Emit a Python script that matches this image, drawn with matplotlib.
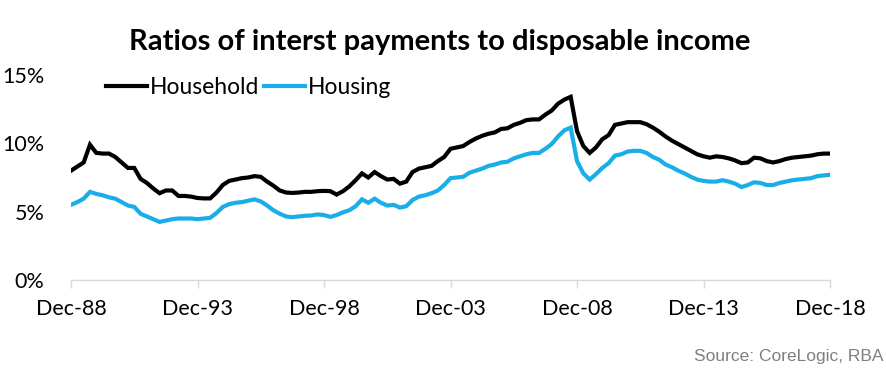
import matplotlib
matplotlib.use('Agg')
import matplotlib.pyplot as plt
import numpy as np

# quarterly, Dec-88 .. Dec-18 (per cent)
household = [8.0, 8.3, 8.6, 9.9, 9.3, 9.25, 9.25, 9.0, 8.6, 8.2,
             8.2, 7.4, 7.1, 6.7, 6.35, 6.55, 6.55, 6.15, 6.15, 6.1,
             6.0, 5.97, 5.97, 6.4, 6.95, 7.25, 7.35, 7.45, 7.5, 7.6,
             7.55, 7.2, 6.9, 6.55, 6.4, 6.37, 6.4, 6.45, 6.45, 6.5,
             6.52, 6.5, 6.25, 6.5, 6.85, 7.3, 7.8, 7.5, 7.9, 7.6,
             7.35, 7.4, 7.05, 7.2, 7.9, 8.15, 8.25, 8.35, 8.7, 9.0,
             9.6, 9.7, 9.8, 10.1, 10.35, 10.55, 10.7, 10.8, 11.05, 11.1,
             11.35, 11.5, 11.7, 11.75, 11.75, 12.1, 12.4, 12.9, 13.2, 13.4,
             10.9, 9.8, 9.3, 9.7, 10.3, 10.6, 11.35, 11.45, 11.55, 11.55,
             11.55, 11.4, 11.15, 10.85, 10.5, 10.2, 9.95, 9.7, 9.45, 9.2,
             9.05, 8.95, 9.05, 9.0, 8.9, 8.75, 8.55, 8.6, 8.95, 8.9,
             8.7, 8.6, 8.7, 8.85, 8.95, 9.0, 9.05, 9.1, 9.2, 9.25,
             9.25]
housing = [5.5, 5.7, 5.95, 6.45, 6.3, 6.2, 6.05, 5.95, 5.7, 5.45,
           5.35, 4.85, 4.65, 4.45, 4.25, 4.35, 4.45, 4.5, 4.5, 4.5,
           4.45, 4.5, 4.55, 4.9, 5.35, 5.55, 5.65, 5.7, 5.8, 5.9,
           5.75, 5.45, 5.1, 4.85, 4.65, 4.6, 4.65, 4.7, 4.72, 4.8,
           4.75, 4.62, 4.75, 4.95, 5.1, 5.4, 5.9, 5.65, 5.95, 5.65,
           5.45, 5.5, 5.3, 5.4, 5.85, 6.1, 6.2, 6.35, 6.55, 6.95,
           7.45, 7.5, 7.55, 7.85, 8.0, 8.15, 8.35, 8.45, 8.6, 8.65,
           8.9, 9.05, 9.2, 9.3, 9.3, 9.6, 9.95, 10.5, 10.95, 11.15,
           8.7, 7.8, 7.35, 7.75, 8.2, 8.55, 9.1, 9.2, 9.4, 9.45,
           9.45, 9.3, 9.0, 8.8, 8.45, 8.25, 8.0, 7.8, 7.55, 7.35,
           7.25, 7.2, 7.2, 7.3, 7.2, 7.05, 6.8, 6.95, 7.15, 7.1,
           6.95, 6.95, 7.1, 7.2, 7.3, 7.35, 7.4, 7.45, 7.6, 7.65,
           7.7]
tick_labels = ['Dec-88', 'Dec-93', 'Dec-98', 'Dec-03', 'Dec-08', 'Dec-13', 'Dec-18']

plt.rcParams['font.family'] = ['Lato', 'DejaVu Sans']

fig = plt.figure(figsize=(8.86, 3.8), dpi=100)
ax = fig.add_axes([71/886, 100/380, (830-71)/886, 205/380])

q = np.arange(len(household))
ax.plot(q, household, color='black', lw=3.0, label='Household', solid_joinstyle='miter')
ax.plot(q, housing, color='#19AEE8', lw=3.0, label='Housing', solid_joinstyle='miter')

ax.set_xlim(0, len(household) - 1)
ax.set_ylim(0, 15)
ax.set_xticks(np.arange(0, len(household), 20))
ax.set_xticklabels(tick_labels)
ax.set_yticks([0, 5, 10, 15])
ax.set_yticklabels(['0%', '5%', '10%', '15%'])

for s in ['top', 'right', 'left']:
    ax.spines[s].set_visible(False)
ax.spines['bottom'].set_color('#D9D9D9')
ax.spines['bottom'].set_linewidth(1.0)
ax.tick_params(axis='x', colors='#D9D9D9', length=6, width=1.0, pad=8,
               labelsize=15.5, labelcolor='black')
ax.tick_params(axis='y', length=0, pad=19, labelsize=15.5, labelcolor='black')

ax.legend(loc='center left', bbox_to_anchor=(106/886, 1 - 88/380),
          bbox_transform=fig.transFigure, ncol=2, frameon=False,
          fontsize=16.5, handlelength=1.8, handletextpad=0.1,
          columnspacing=0.22, borderaxespad=0, borderpad=0)

fig.text(440/886, 1 - 42/380, 'Ratios of interst payments to disposable income',
         ha='center', va='center', fontsize=21, fontweight='bold')
fig.text(884/886, 1 - 356/380, 'Source: CoreLogic, RBA', ha='right', va='center',
         fontsize=12.5, color='#7F7F7F', family='Liberation Sans')

fig.savefig('out.png', dpi=100)
